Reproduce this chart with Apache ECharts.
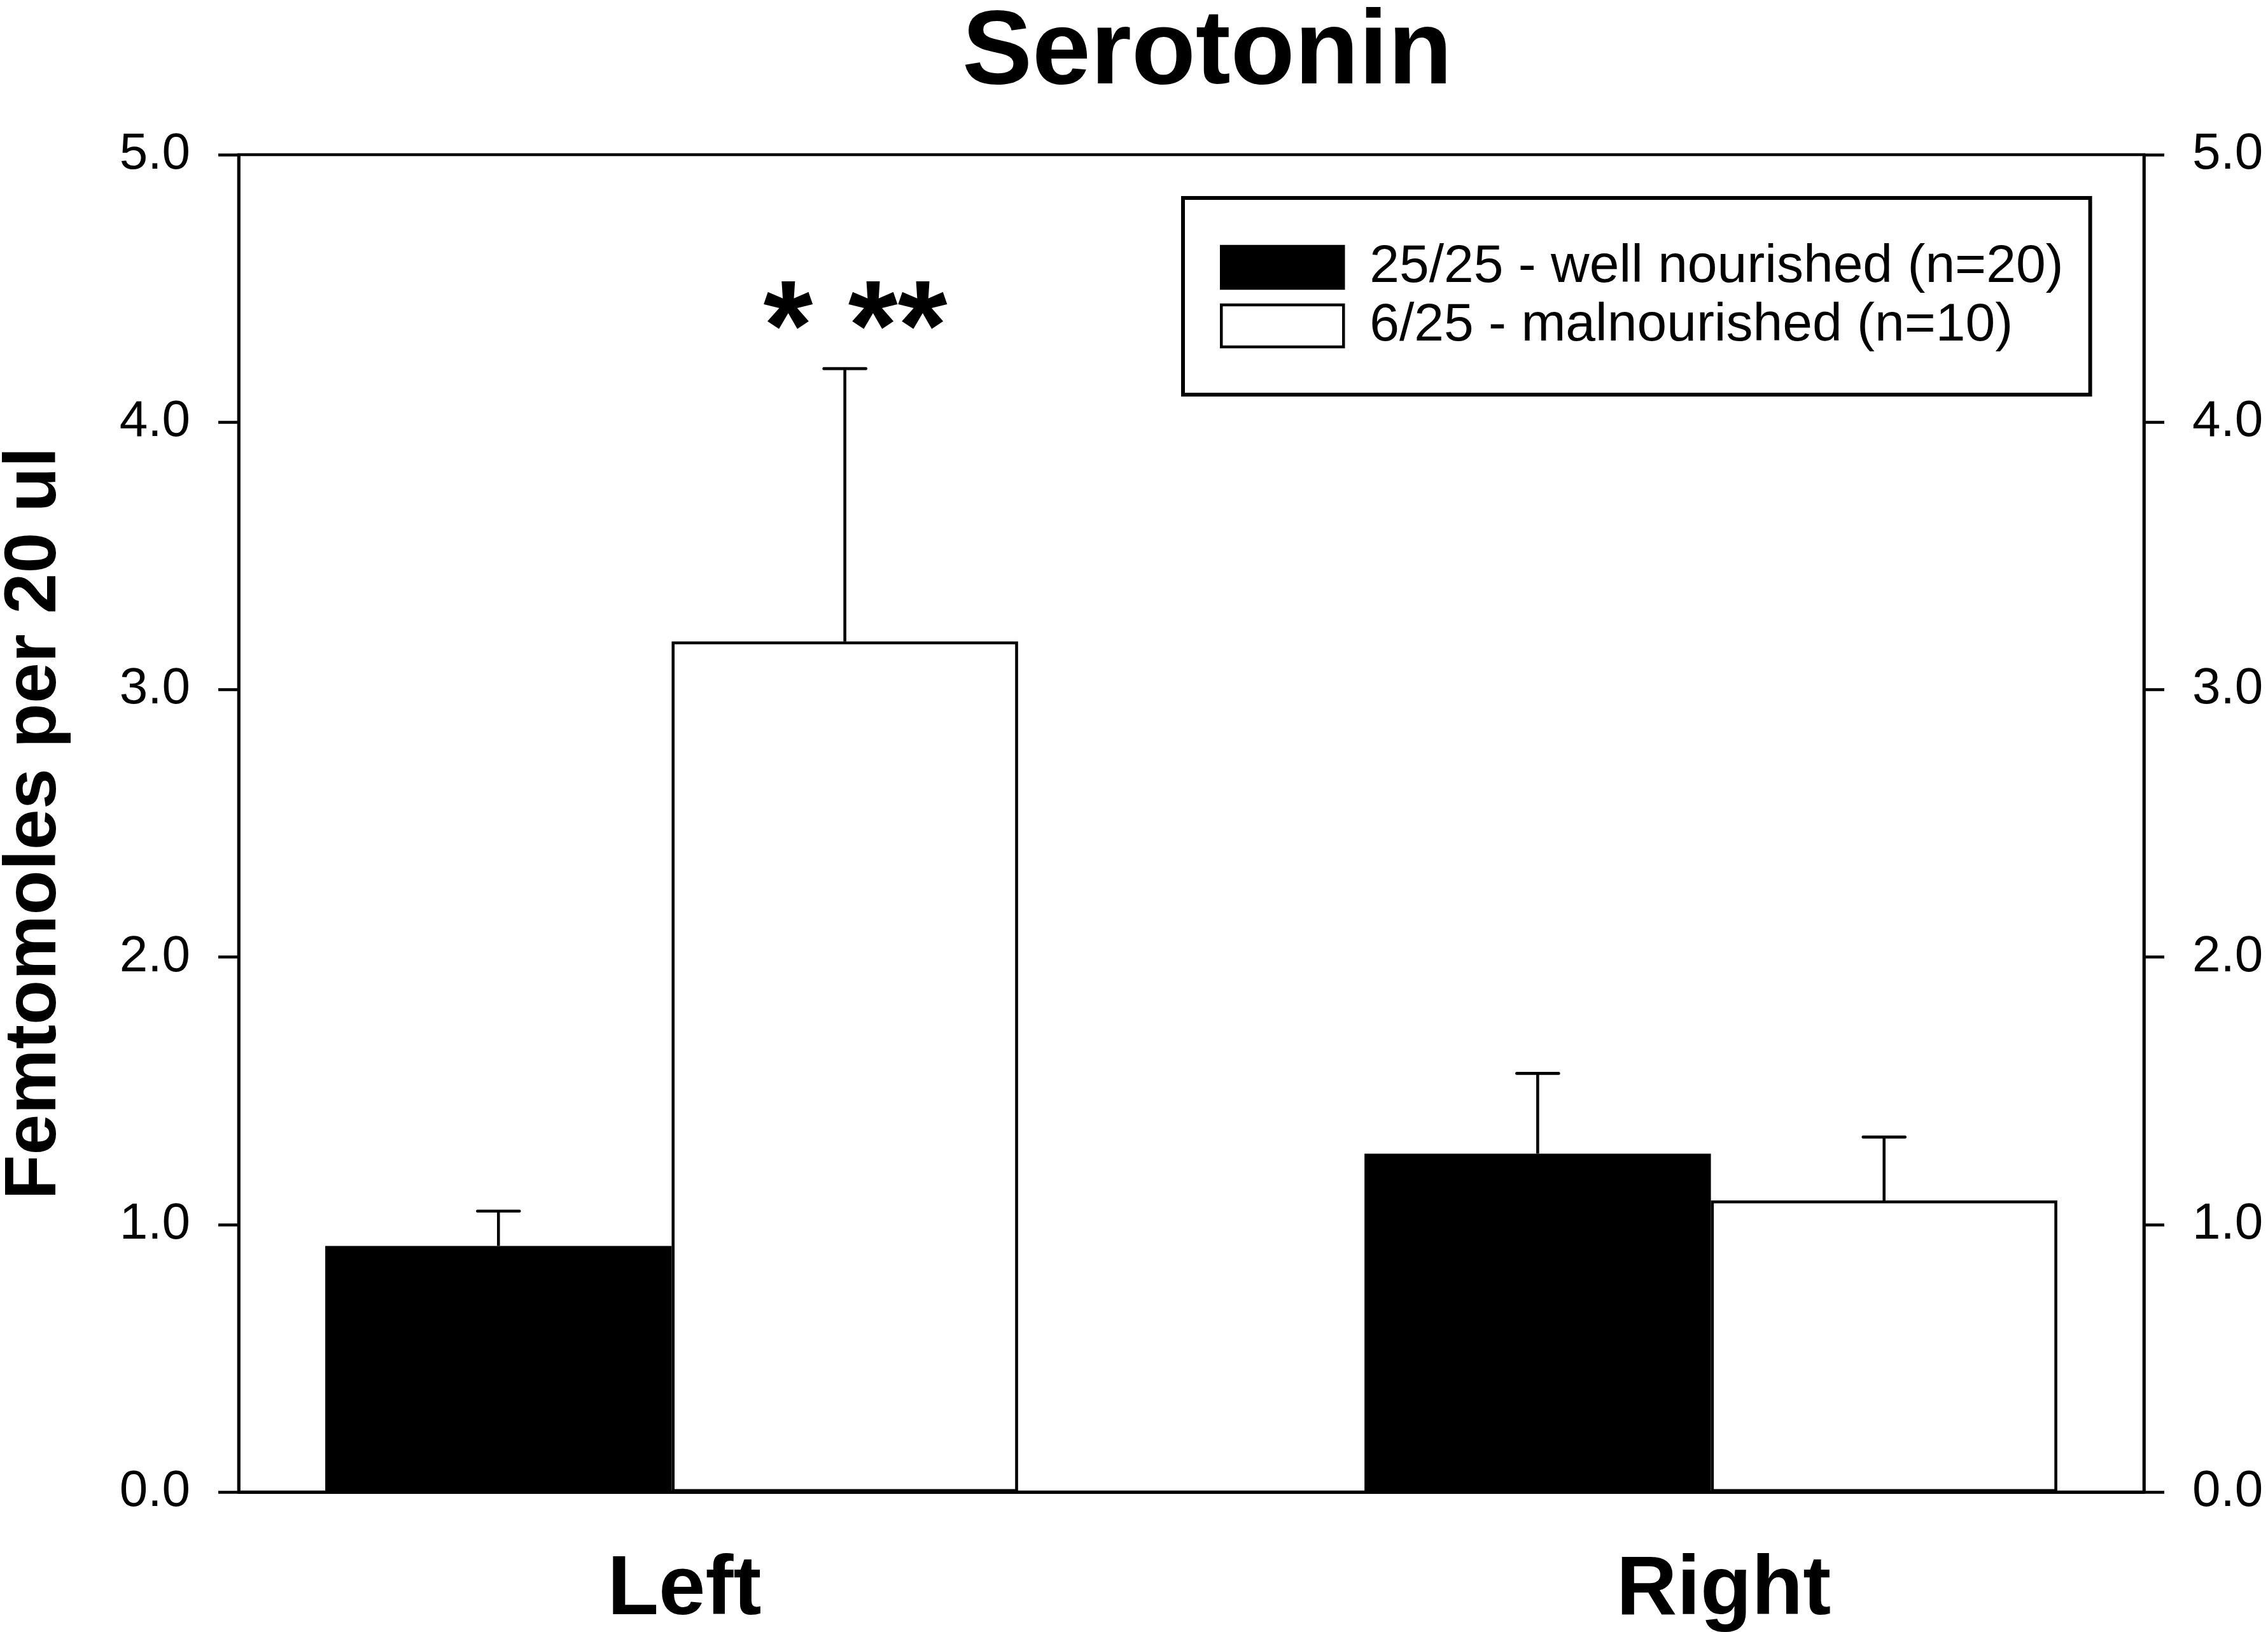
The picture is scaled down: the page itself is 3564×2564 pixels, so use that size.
<!DOCTYPE html>
<html>
<head>
<meta charset="utf-8">
<title>Serotonin</title>
<script src="https://cdn.jsdelivr.net/npm/echarts@6/dist/echarts.min.js"></script>
<style>
  html, body { margin: 0; padding: 0; background: #fff; }
  #chart { width: 3564px; height: 2564px; }
</style>
</head>
<body>
<div id="chart"></div>
<script>
// groups along the x axis
var categories = ['Left', 'Right'];
var seriesNames = ['25/25 - well nourished (n=20)', '6/25 - malnourished (n=10)'];
// group means
var wellMeans = [0.92, 1.265];
var malMeans = [3.18, 1.09];
// top of each error bar
var wellErrTop = [1.05, 1.565];
var malErrTop = [4.20, 1.327];
var yTicks = [0, 1, 2, 3, 4, 5];
var significance = '* **';

var FONT = 'Liberation Sans';

// x position of a group centre on the value axis (bar widths = 1 unit)
function groupX(i) { return i * 3 + 1.25; }

function barData(vals) {
  return vals.map(function (v, i) { return [groupX(i), v]; });
}

function errSeries(means, tops, shift) {
  return {
    type: 'custom',
    silent: true,
    z: 4,
    renderItem: function (params, api) {
      var base = api.coord([api.value(0), api.value(1)]);
      var top = api.coord([api.value(0), api.value(2)]);
      var half = 33;
      return {
        type: 'group',
        children: [
          { type: 'line', shape: { x1: base[0], y1: base[1], x2: top[0], y2: top[1] },
            style: { stroke: '#000', lineWidth: 4.6 } },
          { type: 'line', shape: { x1: top[0] - half, y1: top[1], x2: top[0] + half, y2: top[1] },
            style: { stroke: '#000', lineWidth: 4.6, lineCap: 'round' } }
        ]
      };
    },
    data: means.map(function (m, i) { return [groupX(i) + shift, m, tops[i]]; })
  };
}

var yAxisBase = {
  type: 'value',
  min: yTicks[0],
  max: yTicks[yTicks.length - 1],
  interval: 1,
  axisLine: { show: true, lineStyle: { color: '#000', width: 4.6 } },
  axisTick: { show: true, inside: false, length: 32, lineStyle: { color: '#000', width: 4.6 } },
  axisLabel: {
    margin: 76,
    color: '#000',
    fontFamily: FONT,
    fontSize: 80,
    formatter: function (v) { return v.toFixed(1); }
  },
  splitLine: { show: false }
};

var myChart = echarts.init(document.getElementById('chart'));

var malErr = errSeries(malMeans, malErrTop, 0.5);
// significance marks above the malnourished "Left" bar
malErr.markPoint = {
  symbol: 'circle',
  symbolSize: 1,
  silent: true,
  itemStyle: { color: 'rgba(0,0,0,0)' },
  label: {
    show: true,
    position: 'inside',
    formatter: significance,
    fontFamily: FONT,
    fontSize: 200,
    fontWeight: 'bold',
    color: '#000'
  },
  data: [{ coord: [groupX(0) + 0.53, 4.33] }]
};

var option = {
  backgroundColor: '#fff',
  animation: false,
  title: {
    text: 'Serotonin',
    left: 1512,
    top: 3,
    padding: 0,
    textStyle: { fontFamily: FONT, fontSize: 165, fontWeight: 'bold', color: '#000' }
  },
  legend: {
    data: seriesNames,
    orient: 'vertical',
    left: 1859,
    top: 311,
    padding: [67, 42, 66, 58],
    itemWidth: 192,
    itemHeight: 66,
    itemGap: 8,
    icon: 'rect',
    selectedMode: false,
    borderColor: '#000',
    borderWidth: 6,
    backgroundColor: '#fff',
    itemStyle: { borderColor: '#000', borderWidth: 4.5 },
    textStyle: { fontFamily: FONT, fontSize: 84, color: '#000', padding: [0, 0, 0, 36] }
  },
  grid: {
    left: 375,
    right: 195,
    top: 243,
    bottom: 220,
    show: true,
    borderColor: '#000',
    borderWidth: 4.6,
    containLabel: false,
    outerBoundsMode: 'none'
  },
  xAxis: {
    type: 'value',
    min: 0,
    max: 5.5,
    axisLine: { show: true, lineStyle: { color: '#000', width: 5 } },
    axisTick: { show: false },
    splitLine: { show: false },
    axisLabel: {
      customValues: categories.map(function (c, i) { return groupX(i); }),
      margin: 90,
      padding: [0, 0, 0, 40],
      color: '#000',
      fontFamily: FONT,
      fontSize: 132,
      fontWeight: 'bold',
      formatter: function (v) {
        for (var i = 0; i < categories.length; i++) {
          if (Math.abs(groupX(i) - v) < 1e-6) return categories[i];
        }
        return '';
      }
    }
  },
  yAxis: [
    Object.assign({}, yAxisBase, {
      position: 'left',
      name: 'Femtomoles per 20 ul',
      nameLocation: 'middle',
      nameGap: 262,
      nameTextStyle: { fontFamily: FONT, fontSize: 115, fontWeight: 'bold', color: '#000' }
    }),
    Object.assign({}, yAxisBase, { position: 'right' })
  ],
  series: [
    {
      name: seriesNames[0],
      type: 'bar',
      barWidth: '33.333%',
      barGap: '0%',
      itemStyle: { color: '#000', borderColor: '#000', borderWidth: 4.6 },
      data: barData(wellMeans)
    },
    {
      name: seriesNames[1],
      type: 'bar',
      barWidth: '33.333%',
      barGap: '0%',
      itemStyle: { color: '#fff', borderColor: '#000', borderWidth: 4.6 },
      data: barData(malMeans)
    },
    errSeries(wellMeans, wellErrTop, -0.5),
    malErr
  ]
};

option && myChart.setOption(option);
</script>
</body>
</html>
